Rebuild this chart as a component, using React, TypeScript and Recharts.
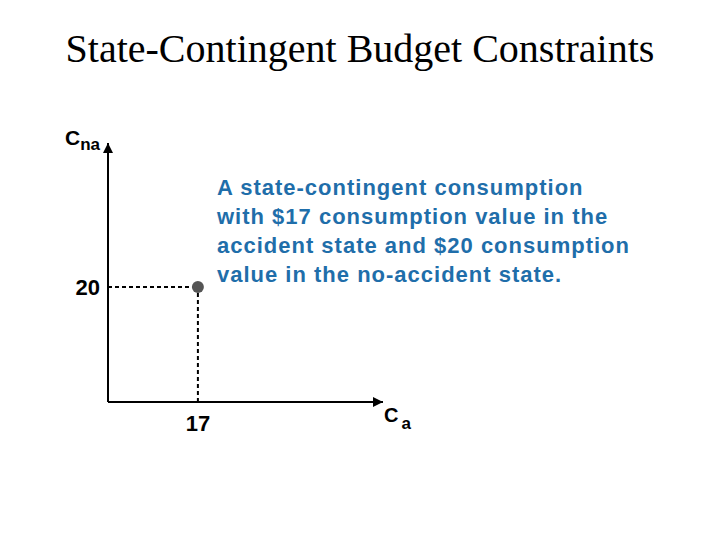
import { ScatterChart, Scatter, XAxis, YAxis, ReferenceLine } from "recharts";

// consumption in the accident state (Ca) and in the no-accident state (Cna)
const point = [{ ca: 17, cna: 20 }];
const xTicks = [17];
const yTicks = [20];
const xDomain = [0, 52];
const yDomain = [0, 45];
const noteLines = [
  "A state-contingent consumption",
  "with $17 consumption value in the",
  "accident state and $20 consumption",
  "value in the no-accident state.",
];

const sans = "'Liberation Sans', Arial, sans-serif";

const Dot = (p: any) => <circle cx={p.cx} cy={p.cy} r={6} fill="#555" />;

const App = () => {
  return (
    <div style={{ position: "absolute", left: 0, top: 0, width: 720, height: 540, background: "#fff" }}>
      <svg width={0} height={0} style={{ position: "absolute" }}>
        <defs>
          <marker id="arrow" viewBox="0 0 10 10" refX="10" refY="5" markerWidth="5" markerHeight="5" orient="auto-start-reverse" markerUnits="strokeWidth">
            <path d="M0,0 L10,5 L0,10 z" fill="#000" />
          </marker>
        </defs>
      </svg>
      <div
        style={{
          position: "absolute",
          left: 0,
          top: 25,
          width: 720,
          textAlign: "center",
          fontFamily: "'Liberation Serif', 'Times New Roman', serif",
          fontSize: 40,
          color: "#000",
          whiteSpace: "nowrap",
        }}
      >
        State-Contingent Budget Constraints
      </div>
      <ScatterChart width={720} height={540} margin={{ top: 143, right: 337, bottom: 0, left: 0 }}>
        <XAxis
          type="number"
          dataKey="ca"
          domain={xDomain}
          ticks={xTicks}
          height={138}
          tickLine={false}
          tickMargin={7}
          axisLine={{ stroke: "#000", strokeWidth: 2, markerEnd: "url(#arrow)" }}
          tick={{ fill: "#000", fontSize: 22, fontWeight: "bold", fontFamily: sans }}
        />
        <YAxis
          type="number"
          dataKey="cna"
          domain={yDomain}
          ticks={yTicks}
          width={108}
          tickLine={false}
          axisLine={{ stroke: "#000", strokeWidth: 2, markerStart: "url(#arrow)" }}
          tick={{ fill: "#000", fontSize: 22, fontWeight: "bold", fontFamily: sans }}
        />
        <ReferenceLine
          segment={[{ x: 0, y: 20 }, { x: 17, y: 20 }]}
          stroke="#000"
          strokeWidth={2}
          strokeDasharray="4 3"
        />
        <ReferenceLine
          segment={[{ x: 17, y: 0 }, { x: 17, y: 20 }]}
          stroke="#000"
          strokeWidth={2}
          strokeDasharray="4 3"
        />
        <Scatter data={point} fill="#555" shape={Dot} isAnimationActive={false} />
      </ScatterChart>
      <div style={{ position: "absolute", left: 65, top: 126, fontFamily: sans, fontWeight: "bold", fontSize: 21, color: "#000", whiteSpace: "nowrap" }}>
        C<span style={{ fontSize: 17, position: "relative", top: 5 }}>na</span>
      </div>
      <div style={{ position: "absolute", left: 384, top: 404, fontFamily: sans, fontWeight: "bold", fontSize: 20, color: "#000", whiteSpace: "nowrap" }}>
        C<span style={{ fontSize: 17, position: "relative", top: 7, marginLeft: 3 }}>a</span>
      </div>
      <div
        style={{
          position: "absolute",
          left: 217,
          top: 173,
          fontFamily: sans,
          fontWeight: "bold",
          fontSize: 22,
          letterSpacing: 1,
          lineHeight: "29px",
          color: "#1f6eaa",
          whiteSpace: "nowrap",
        }}
      >
        {noteLines.map((l) => (
          <div key={l}>{l}</div>
        ))}
      </div>
    </div>
  );
};

export default App;
